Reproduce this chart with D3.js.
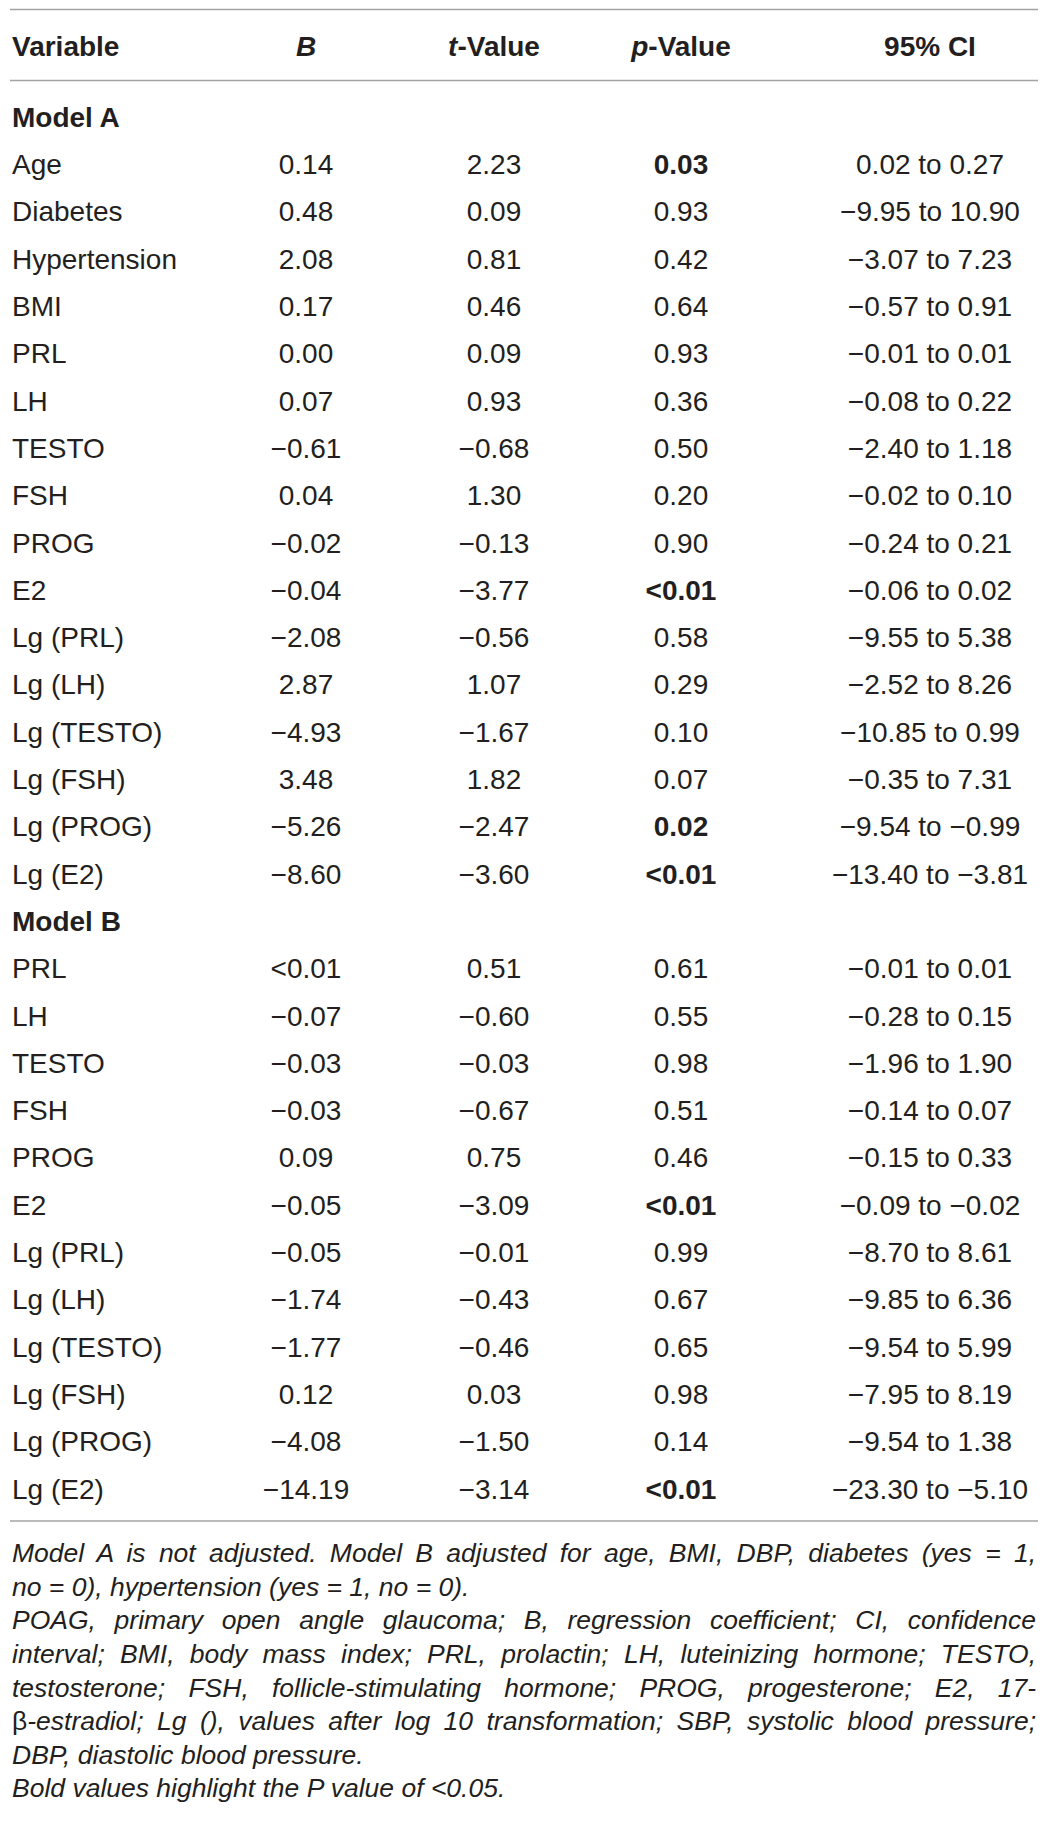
<!DOCTYPE html>
<html lang="en">
<head>
  <meta charset="UTF-8">
  <title>Regression of hormones</title>
  <script src="https://d3js.org/d3.v7.min.js"></script>
  <style>
    body { margin: 0; background: #fff; }
    svg { display: block; font-family: "Liberation Sans", Arial, sans-serif; }
  </style>
</head>
<body>
  <div id="chart"></div>

  <script>
    // table values (as printed)
    const headers = ["Variable", "B", "t-Value", "p-Value", "95% CI"];

    const modelAVars = ["Age", "Diabetes", "Hypertension", "BMI", "PRL", "LH", "TESTO", "FSH", "PROG", "E2",
                        "Lg (PRL)", "Lg (LH)", "Lg (TESTO)", "Lg (FSH)", "Lg (PROG)", "Lg (E2)"];
    const modelAB  = ["0.14", "0.48", "2.08", "0.17", "0.00", "0.07", "−0.61", "0.04", "−0.02", "−0.04",
                      "−2.08", "2.87", "−4.93", "3.48", "−5.26", "−8.60"];
    const modelAT  = ["2.23", "0.09", "0.81", "0.46", "0.09", "0.93", "−0.68", "1.30", "−0.13", "−3.77",
                      "−0.56", "1.07", "−1.67", "1.82", "−2.47", "−3.60"];
    const modelAP  = ["0.03", "0.93", "0.42", "0.64", "0.93", "0.36", "0.50", "0.20", "0.90", "<0.01",
                      "0.58", "0.29", "0.10", "0.07", "0.02", "<0.01"];
    const modelACI = ["0.02 to 0.27", "−9.95 to 10.90", "−3.07 to 7.23", "−0.57 to 0.91", "−0.01 to 0.01",
                      "−0.08 to 0.22", "−2.40 to 1.18", "−0.02 to 0.10", "−0.24 to 0.21", "−0.06 to 0.02",
                      "−9.55 to 5.38", "−2.52 to 8.26", "−10.85 to 0.99", "−0.35 to 7.31", "−9.54 to −0.99",
                      "−13.40 to −3.81"];

    const modelBVars = ["PRL", "LH", "TESTO", "FSH", "PROG", "E2",
                        "Lg (PRL)", "Lg (LH)", "Lg (TESTO)", "Lg (FSH)", "Lg (PROG)", "Lg (E2)"];
    const modelBB  = ["<0.01", "−0.07", "−0.03", "−0.03", "0.09", "−0.05", "−0.05", "−1.74", "−1.77", "0.12", "−4.08", "−14.19"];
    const modelBT  = ["0.51", "−0.60", "−0.03", "−0.67", "0.75", "−3.09", "−0.01", "−0.43", "−0.46", "0.03", "−1.50", "−3.14"];
    const modelBP  = ["0.61", "0.55", "0.98", "0.51", "0.46", "<0.01", "0.99", "0.67", "0.65", "0.98", "0.14", "<0.01"];
    const modelBCI = ["−0.01 to 0.01", "−0.28 to 0.15", "−1.96 to 1.90", "−0.14 to 0.07", "−0.15 to 0.33",
                      "−0.09 to −0.02", "−8.70 to 8.61", "−9.85 to 6.36", "−9.54 to 5.99", "−7.95 to 8.19",
                      "−9.54 to 1.38", "−23.30 to −5.10"];

    // footnote, broken as in the printed table; true = justified line
    const noteLines = [
      ["Model A is not adjusted. Model B adjusted for age, BMI, DBP, diabetes (yes = 1,", true],
      ["no = 0), hypertension (yes = 1, no = 0).", false],
      ["POAG, primary open angle glaucoma; B, regression coefficient; CI, confidence", true],
      ["interval; BMI, body mass index; PRL, prolactin; LH, luteinizing hormone; TESTO,", true],
      ["testosterone; FSH, follicle-stimulating hormone; PROG, progesterone; E2, 17-", true],
      ["β-estradiol; Lg (), values after log 10 transformation; SBP, systolic blood pressure;", true],
      ["DBP, diastolic blood pressure.", false],
      ["Bold values highlight the P value of <0.05.", false]
    ];

    const W = 1050, H = 1841;
    const left = 12, right = 1036;
    const ink = "#231f20", rule = "#a3a3a3";
    const fontSize = 28, noteSize = 26.5;
    const rowH = 47.3, firstRow = 117;

    const rows = [{ section: "Model A" }]
      .concat(modelAVars.map((v, i) => ({ v, b: modelAB[i], t: modelAT[i], p: modelAP[i], ci: modelACI[i] })))
      .concat([{ section: "Model B" }])
      .concat(modelBVars.map((v, i) => ({ v, b: modelBB[i], t: modelBT[i], p: modelBP[i], ci: modelBCI[i] })));

    const isSig = s => s.startsWith("<") || +s.replace("−", "-") < 0.05;

    const svg = d3.select("#chart").append("svg")
      .attr("width", W).attr("height", H);

    const y = d3.scaleBand()
      .domain(d3.range(rows.length))
      .range([firstRow - rowH / 2, firstRow - rowH / 2 + rowH * rows.length]);

    const x = d3.scaleOrdinal()
      .domain(["b", "t", "p", "ci"])
      .range([306, 494, 681, 930]);

    // rules
    [9.5, 80.5, 1521].forEach(yy => {
      svg.append("line")
        .attr("x1", 10).attr("x2", 1038)
        .attr("y1", yy).attr("y2", yy)
        .attr("stroke", rule).attr("stroke-width", 1.6);
    });

    // header
    const head = svg.append("g")
      .attr("font-size", fontSize).attr("font-weight", "bold").attr("fill", ink);
    const hy = 46;
    head.append("text").attr("x", left).attr("y", hy).attr("dy", "0.35em").text(headers[0]);
    head.append("text").attr("x", x("b")).attr("y", hy).attr("dy", "0.35em")
      .attr("text-anchor", "middle").attr("font-style", "italic").text(headers[1]);
    ["t", "p"].forEach((k, i) => {
      const t = head.append("text").attr("x", x(k)).attr("y", hy).attr("dy", "0.35em")
        .attr("text-anchor", "middle");
      const label = headers[2 + i];
      t.append("tspan").attr("font-style", "italic").text(label.slice(0, 1));
      t.append("tspan").text(label.slice(1));
    });
    head.append("text").attr("x", x("ci")).attr("y", hy).attr("dy", "0.35em")
      .attr("text-anchor", "middle").text(headers[4]);

    // body
    const body = svg.append("g").attr("font-size", fontSize).attr("fill", ink);
    const row = body.selectAll("g.row")
      .data(rows)
      .join("g")
      .attr("class", "row")
      .attr("transform", (d, i) => `translate(0,${y(i) + y.bandwidth() / 2})`);

    row.append("text")
      .attr("x", left)
      .attr("dy", "0.35em")
      .attr("font-weight", d => d.section ? "bold" : null)
      .text(d => d.section || d.v);

    ["b", "t", "p", "ci"].forEach(k => {
      row.filter(d => !d.section).append("text")
        .attr("x", x(k))
        .attr("dy", "0.35em")
        .attr("text-anchor", "middle")
        .attr("font-weight", d => k === "p" && isSig(d.p) ? "bold" : null)
        .text(d => d[k]);
    });

    // footnote
    const note = svg.append("g")
      .attr("font-size", noteSize).attr("font-style", "italic").attr("fill", ink);
    noteLines.forEach(([line, justify], i) => {
      const t = note.append("text")
        .attr("x", left)
        .attr("y", 1553 + 33.6 * i)
        .attr("dy", "0.35em");
      if (line.startsWith("β")) {
        t.append("tspan").attr("font-style", "normal").text("β");
        t.append("tspan").text(line.slice(1));
      } else {
        t.text(line);
      }
      if (justify) {
        const natural = t.node().getComputedTextLength();
        const gaps = line.split(" ").length - 1;
        t.style("word-spacing", `${(right - left - natural) / gaps}px`);
      }
    });
  </script>
</body>
</html>
